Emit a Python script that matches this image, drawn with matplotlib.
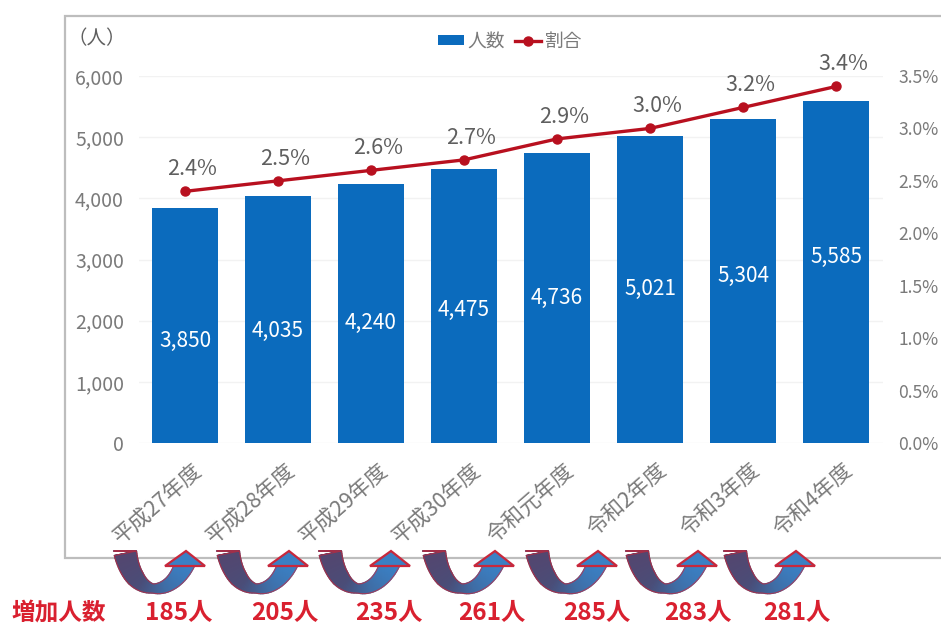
import numpy as np
import matplotlib
matplotlib.use("Agg")
import matplotlib.pyplot as plt
from matplotlib.collections import PolyCollection
from matplotlib.colors import LinearSegmentedColormap
from matplotlib.patches import Polygon, Rectangle
from matplotlib.transforms import ScaledTranslation

plt.rcParams['font.family'] = ['Noto Sans CJK JP', 'DejaVu Sans']

years = ["平成27年度", "平成28年度", "平成29年度", "平成30年度",
         "令和元年度", "令和2年度", "令和3年度", "令和4年度"]
people = [3850, 4035, 4240, 4475, 4736, 5021, 5304, 5585]
ratio = [2.4, 2.5, 2.6, 2.7, 2.9, 3.0, 3.2, 3.4]
increase = [185, 205, 235, 261, 285, 283, 281]

W, H = 941, 627
GRAY = "#7a7a7a"
DARK = "#5f5f5f"
BLUE = "#0b6bbd"
RED = "#b8101f"
ARROW_RED = "#d9202f"

# bar labels do not sit exactly mid-bar, shift them in pixels
label_shift = [16, 11, 10, 4, 0, 0, -5, -15]

# x of each curved arrow's tail and of each count below it
arrow_x = [113, 216, 318, 422, 525, 625, 723]
count_x = [179, 285, 389, 492, 597, 698, 797]

arrow_cmap = LinearSegmentedColormap.from_list(
    "arrow", ["#54466f", "#4a4d78", "#3f6da5", "#3a80c4"])


def draw_arrow(ax, x0, y0=551):
    """Curved up-arrow from a wide tail, through a narrow bowl, to a head."""
    p0 = np.array([x0 + 12, y0])
    p1 = np.array([x0 + 20, y0 + 48])
    p2 = np.array([x0 + 58, y0 + 48])
    p3 = np.array([x0 + 72, y0 + 12])
    t = np.linspace(0, 1, 60)[:, None]
    c = (1 - t)**3 * p0 + 3 * (1 - t)**2 * t * p1 + 3 * (1 - t) * t**2 * p2 + t**3 * p3
    d = np.gradient(c, axis=0)
    n = np.column_stack([-d[:, 1], d[:, 0]]) / np.hypot(d[:, 0], d[:, 1])[:, None]
    w = np.interp(t[:, 0], [0, 0.25, 0.5, 0.75, 1], [11.5, 9, 4.5, 7, 10])[:, None]
    a = c + n * w
    b = c - n * w
    # keep the tail cut flat
    a[0] = [p0[0] + 11.5, y0]
    b[0] = [p0[0] - 11.5, y0]
    quads = [[a[i], a[i + 1], b[i + 1], b[i]] for i in range(len(c) - 1)]
    band = PolyCollection(quads, array=t[:-1, 0], cmap=arrow_cmap, edgecolors="face",
                          linewidths=0.9, zorder=5)
    ax.add_collection(band)
    outline = np.vstack([a, b[::-1]])
    ax.add_patch(Polygon(outline, closed=True, fill=False, edgecolor=ARROW_RED,
                         linewidth=0.8, alpha=0.6, zorder=6))
    head = [[x0 + 52, y0 + 15], [x0 + 73, y0], [x0 + 92, y0 + 15]]
    ax.add_patch(Polygon(head, closed=True, facecolor="#3a80c4", edgecolor="#c8283c",
                         linewidth=1.6, zorder=6))


fig = plt.figure(figsize=(W / 100, H / 100), dpi=100)

# overlay in pixel units for the frame, arrows and counts
over = fig.add_axes([0, 0, 1, 1], zorder=3)
over.set_xlim(0, W)
over.set_ylim(H, 0)
over.axis("off")

back = fig.add_axes([0, 0, 1, 1], zorder=0)
back.set_xlim(0, W)
back.set_ylim(H, 0)
back.axis("off")
back.add_patch(Rectangle((65, 16), W, 542, facecolor="white", edgecolor="#bdbdbd", linewidth=1.6))

ax = fig.add_axes([138.5 / W, 1 - 443 / H, 744 / W, 367 / H], zorder=1)
ax.patch.set_visible(False)
x = np.arange(len(years))
bars = ax.bar(x, people, width=0.71, color=BLUE, label="人数", zorder=2)
ax.set_xlim(-0.5, len(years) - 0.5)
ax.set_ylim(0, 6000)
ax.set_yticks(range(0, 6001, 1000))
ax.set_yticklabels([f"{v:,}" for v in range(0, 6001, 1000)])
ax.set_xticks(x)
ax.set_xticklabels(years, rotation=41, ha="right", rotation_mode="anchor",
                   fontsize=15.5, color=GRAY)
ax.tick_params(axis="x", length=0, pad=12)
ax.tick_params(axis="y", length=0, pad=10.5, labelsize=14, labelcolor=GRAY)
# nudge the slanted labels right, after tick_params has set their transforms
for lab in ax.get_xticklabels():
    lab.set_transform(lab.get_transform() + ScaledTranslation(0.07, 0, fig.dpi_scale_trans))
ax.grid(axis="y", color="#f2f2f2", linewidth=1, zorder=0)
for s in ax.spines.values():
    s.set_visible(False)

for i, v in enumerate(people):
    ax.annotate(f"{v:,}", (i, v / 2), xytext=(0, -label_shift[i] * 0.72), textcoords="offset points",
                ha="center", va="center", color="white", fontsize=15, zorder=4)

ax2 = ax.twinx()
ax2.patch.set_visible(False)
line, = ax2.plot(x, ratio, color=RED, linewidth=2.4, marker="o", markersize=6.5, label="割合", zorder=3)
ax2.set_ylim(0, 3.5)
ax2.set_yticks(np.arange(0, 3.6, 0.5))
ax2.set_yticklabels([f"{v:.1f}%" for v in np.arange(0, 3.6, 0.5)])
ax2.tick_params(axis="y", length=0, pad=11.5, labelsize=12.6, labelcolor=GRAY)
for s in ax2.spines.values():
    s.set_visible(False)

for i, v in enumerate(ratio):
    ax2.annotate(f"{v:.1f}%", (i, v), xytext=(5, 16), textcoords="offset points",
                 ha="center", va="center", color=DARK, fontsize=15.5)

over.legend([bars, line], ["人数", "割合"], loc="center", bbox_to_anchor=(510 / W, 1 - 41 / H),
            bbox_transform=fig.transFigure, ncol=2, frameon=False, fontsize=13.5, labelcolor=GRAY,
            handlelength=1.4, handleheight=0.4, handletextpad=0.2, columnspacing=0.5, borderpad=0)

over.text(97, 39, "（人）", ha="center", va="center", color=DARK, fontsize=14)

for ax_x in arrow_x:
    draw_arrow(over, ax_x)

over.text(59, 613, "増加人数", ha="center", va="center", color=ARROW_RED, fontsize=17, fontweight="bold")
for cx, n in zip(count_x, increase):
    over.text(cx, 613, f"{n}人", ha="center", va="center", color=ARROW_RED, fontsize=17.5, fontweight="bold")

fig.savefig("out.png", dpi=100)
